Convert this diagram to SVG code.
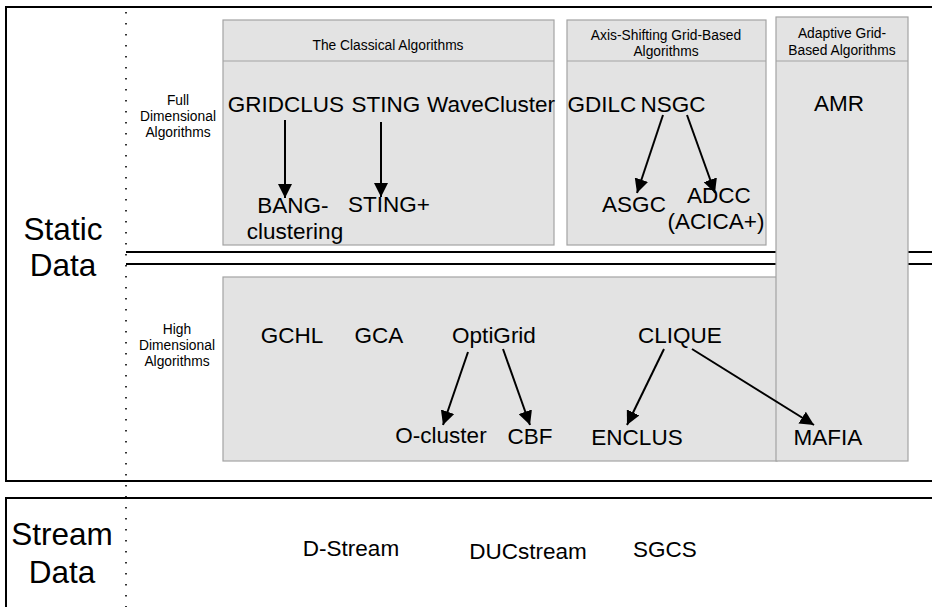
<svg xmlns="http://www.w3.org/2000/svg" width="932" height="607" viewBox="0 0 932 607">
<style>
.frame{fill:none;stroke:#000;stroke-width:2}
.box{fill:#e3e3e3;stroke:#a3a3a3;stroke-width:1.2}
.hl{stroke:#a3a3a3;stroke-width:1.2}
.dbl{stroke:#000;stroke-width:2}
.dot{stroke:#000;stroke-width:1.6;stroke-dasharray:1.6 9.4}
.n{font-family:"Liberation Sans",Arial,sans-serif;font-size:22.5px;fill:#000}
.s{font-family:"Liberation Sans",Arial,sans-serif;font-size:13.8px;fill:#000;text-anchor:middle}
.big{font-family:"Liberation Sans",Arial,sans-serif;font-size:31.5px;fill:#000;text-anchor:middle}
.c{text-anchor:middle}
.arr{stroke:#000;stroke-width:2;fill:none;marker-end:url(#ah)}
</style>
<defs>
<marker id="ah" markerUnits="userSpaceOnUse" markerWidth="15" markerHeight="14" refX="14" refY="7" orient="auto">
<path d="M0,0 L14,7 L0,14 z" fill="#000"/>
</marker>
</defs>
<rect width="932" height="607" fill="#fff"/>

<g id="frames">
<rect class="frame" x="6" y="7" width="940" height="474"/>
<rect class="frame" x="6" y="498" width="940" height="200"/>
<line class="dot" x1="126" y1="12" x2="126" y2="607"/>
<line class="dbl" x1="126" y1="252" x2="932" y2="252"/>
<line class="dbl" x1="126" y1="264" x2="932" y2="264"/>
</g>

<g id="static-label"><text class="big" x="63" y="240">Static</text><text class="big" x="63" y="276">Data</text></g>
<g id="stream-label"><text class="big" x="62" y="545">Stream</text><text class="big" x="62" y="583">Data</text></g>

<g id="full-label"><text class="s" x="178" y="105">Full</text><text class="s" x="178" y="121">Dimensional</text><text class="s" x="178" y="137">Algorithms</text></g>
<g id="high-label"><text class="s" x="177" y="334">High</text><text class="s" x="177" y="350">Dimensional</text><text class="s" x="177" y="366">Algorithms</text></g>

<g id="classical">
<rect class="box" x="223" y="20" width="331" height="225"/>
<line class="hl" x1="223" y1="61" x2="554" y2="61"/>
<text class="s" x="388" y="50">The Classical Algorithms</text>
</g>
<g id="axis">
<rect class="box" x="567" y="20" width="199" height="225"/>
<line class="hl" x1="567" y1="61" x2="766" y2="61"/>
<text class="s" x="666" y="40">Axis-Shifting Grid-Based</text>
<text class="s" x="666" y="56">Algorithms</text>
</g>
<g id="high">
<rect class="box" x="223" y="277" width="554" height="184"/>
</g>
<g id="adaptive">
<rect class="box" x="776" y="17" width="132" height="444"/>
<line class="hl" x1="776" y1="61" x2="908" y2="61"/>
<text class="s" x="842" y="38">Adaptive Grid-</text>
<text class="s" x="842" y="55">Based Algorithms</text>
</g>

<g id="GRIDCLUS"><text class="n c" x="286" y="112">GRIDCLUS</text></g>
<g id="STING"><text class="n c" x="386" y="112">STING</text></g>
<g id="WaveCluster"><text class="n c" x="491" y="112">WaveCluster</text></g>
<g id="BANG"><text class="n c" x="293" y="213">BANG-</text><text class="n c" x="295" y="239">clustering</text></g>
<g id="STINGplus"><text class="n c" x="389" y="212">STING+</text></g>
<g id="GDILC"><text class="n c" x="602" y="112">GDILC</text></g>
<g id="NSGC"><text class="n c" x="673" y="112">NSGC</text></g>
<g id="ASGC"><text class="n c" x="634" y="212">ASGC</text></g>
<g id="ADCC"><text class="n c" x="719" y="203">ADCC</text><text class="n c" x="716" y="229">(ACICA+)</text></g>
<g id="AMR"><text class="n c" x="839" y="111">AMR</text></g>
<g id="GCHL"><text class="n c" x="292" y="343">GCHL</text></g>
<g id="GCA"><text class="n c" x="379" y="343">GCA</text></g>
<g id="OptiGrid"><text class="n c" x="494" y="343">OptiGrid</text></g>
<g id="CLIQUE"><text class="n c" x="680" y="343">CLIQUE</text></g>
<g id="O-cluster"><text class="n c" x="441" y="443">O-cluster</text></g>
<g id="CBF"><text class="n c" x="530" y="444">CBF</text></g>
<g id="ENCLUS"><text class="n c" x="637" y="445">ENCLUS</text></g>
<g id="MAFIA"><text class="n c" x="828" y="445">MAFIA</text></g>
<g id="D-Stream"><text class="n c" x="351" y="556">D-Stream</text></g>
<g id="DUCstream"><text class="n c" x="528" y="559">DUCstream</text></g>
<g id="SGCS"><text class="n c" x="665" y="557">SGCS</text></g>

<g id="connectors">
<line class="arr" x1="285" y1="120" x2="285" y2="198"/>
<line class="arr" x1="381" y1="122" x2="381" y2="197"/>
<line class="arr" x1="663" y1="115" x2="637" y2="193"/>
<line class="arr" x1="687" y1="115" x2="715" y2="193"/>
<line class="arr" x1="468" y1="352" x2="443" y2="425"/>
<line class="arr" x1="503" y1="349" x2="530" y2="425"/>
<line class="arr" x1="664" y1="349" x2="627" y2="425"/>
<line class="arr" x1="692" y1="349" x2="814" y2="425"/>
</g>
</svg>
